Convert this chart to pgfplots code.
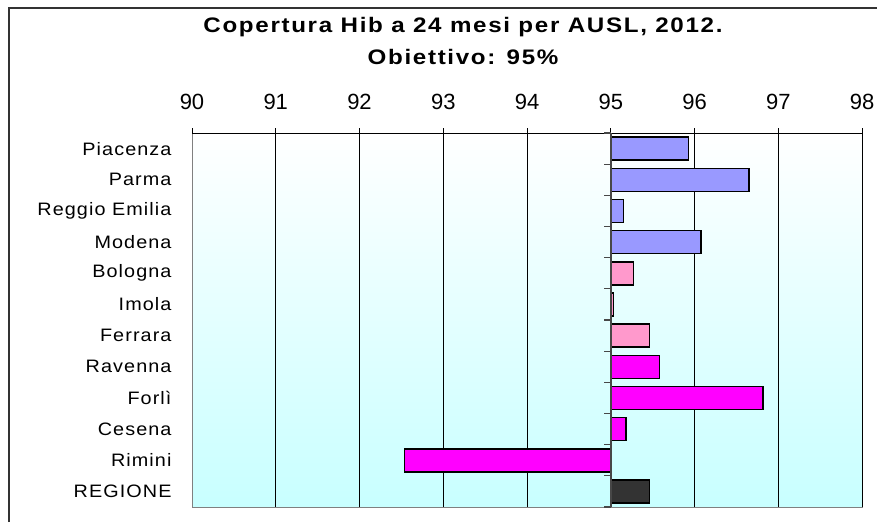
\documentclass[border=0pt]{standalone}
\usepackage{pgfplots}
\usepackage{pgfplotstable}
\pgfplotsset{compat=1.18}
\usepackage{fontspec}
\setmainfont{Liberation Sans}
\newfontfamily\titlefont[LetterSpace=8,FakeStretch=1.15]{Liberation Sans}
\newfontfamily\catfont[LetterSpace=6,FakeStretch=1.1]{Liberation Sans}
\definecolor{periw}{RGB}{153,153,255}
\definecolor{pinkc}{RGB}{255,153,204}
\definecolor{mag}{RGB}{255,0,255}
\definecolor{darkb}{RGB}{51,51,51}
\definecolor{bgc}{RGB}{200,255,255}

\pgfplotstableread{
y x
0 95.93
1 96.65
2 95.15
3 96.08
}\tblue
\pgfplotstableread{
y x
4 95.27
5 95.03
6 95.46
}\tpink
\pgfplotstableread{
y x
7 95.58
8 96.82
9 95.18
10 92.54
}\tmag
\pgfplotstableread{
y x
11 95.46
}\treg

\begin{document}
\begin{tikzpicture}
\useasboundingbox (0pt,0pt) rectangle (877pt,-522pt);
\draw[line width=1.5pt, black!80] (9pt,-522pt) -- (9pt,-8pt) -- (877pt,-8pt);
\node[font=\titlefont\bfseries\fontsize{21}{24}\selectfont] at (463pt,-27pt) {Copertura Hib a 24 mesi per AUSL, 2012.};
\node[font=\titlefont\bfseries\fontsize{21}{24}\selectfont] at (463pt,-57pt) {Obiettivo: 95\%};
\begin{axis}[
  at={(192pt,-507pt)}, anchor=south west,
  scale only axis, width=670pt, height=374pt,
  xmin=-5, xmax=3, xtick={-5,-4,-3,-2,-1,0,1,2,3},
  xticklabels={90,91,92,93,94,95,96,97,98},
  x filter/.expression={x-95},
  xtick pos=upper, xticklabel pos=upper,
  tick align=outside,
  xmajorgrids, grid style={black, line width=0.6pt},
  major x tick style={black, line width=0.6pt},
  major tick length=5pt,
  xticklabel style={font=\fontsize{22}{26}\selectfont, yshift=15pt},
  /pgf/number format/assume math mode=true,
  y dir=reverse, ymin=-0.5, ymax=11.5,
  ytick={0,...,11},
  yticklabels={Piacenza,Parma,Reggio Emilia,Modena,Bologna,Imola,Ferrara,Ravenna,Forlì,Cesena,Rimini,REGIONE},
  ytick style={draw=none},
  yticklabel style={font=\catfont\fontsize{18}{21}\selectfont, xshift=-12pt},
  axis line style={draw=gray, line width=1pt},
  axis background/.style={top color=white, bottom color=bgc},
  xbar, bar width=23pt, bar shift=0pt,
  every axis plot/.append style={draw=black, line width=1.5pt},
  clip=false,
]
\addplot[fill=periw] table[x=x,y=y] {\tblue};
\addplot[fill=pinkc] table[x=x,y=y] {\tpink};
\addplot[fill=mag] table[x=x,y=y] {\tmag};
\addplot[fill=darkb] table[x=x,y=y] {\treg};
\draw[black, line width=1pt] (rel axis cs:0,1) -- (rel axis cs:1,1) -- (rel axis cs:1,0);
\draw[darkb!90, line width=1.8pt] (axis cs:0,-0.5) -- (axis cs:0,11.5);
\pgfplotsinvokeforeach{-0.5,0.5,1.5,2.5,3.5,4.5,5.5,6.5,7.5,8.5,9.5,10.5,11.5}{
  \draw[darkb!90, line width=1.2pt] (axis cs:0,#1) -- ++(-7pt,0pt);
}
\end{axis}
\end{tikzpicture}
\end{document}
